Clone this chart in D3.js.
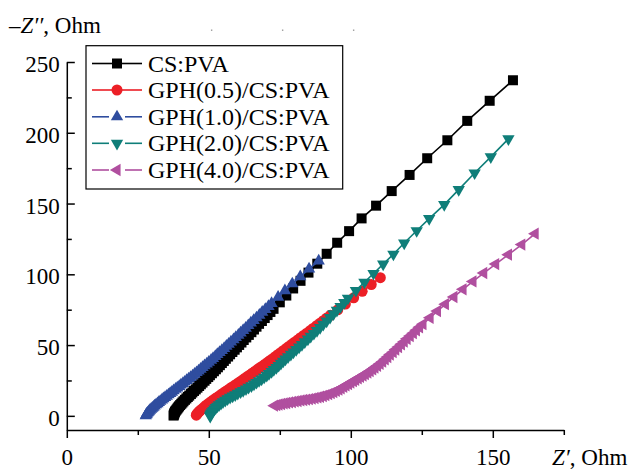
<!DOCTYPE html>
<html>
<head>
<meta charset="utf-8">
<script src="https://cdn.jsdelivr.net/npm/d3@7"></script>
<style>
  html, body { margin: 0; padding: 0; background: #fff; }
  svg { display: block; font-family: "Liberation Serif", "Times New Roman", serif; }
</style>
</head>
<body>
<svg id="chart" width="636" height="470"></svg>
<script>
// Nyquist plots (Z' vs -Z''), values in Ohm
const seriesNames = ["CS:PVA", "GPH(0.5)/CS:PVA", "GPH(1.0)/CS:PVA", "GPH(2.0)/CS:PVA", "GPH(4.0)/CS:PVA"];
const seriesColors = ["#000000", "#ec1f26", "#2f4d9f", "#0f7e79", "#b04f9f"];

const csPva = [
  [157.1,237.1],[148.9,222.6],[141.0,208.4],[134.0,194.7],[126.9,182.0],[120.7,170.2],[114.4,158.8],
  [108.9,148.5],[103.8,139.5],[99.4,130.5],[95.2,122.3],[91.5,114.5],[88.2,107.5],[85.1,101.2],
  [82.3,95.4],[79.7,90.0],[77.3,85.0],[75.0,80.2],[72.8,75.6],[71.7,73.4],[70.7,71.2],[69.7,69.1],
  [68.7,67.0],[67.7,65.0],[66.8,63.0],[65.9,61.0],[65.0,59.1],[64.1,57.2],[63.2,55.4],[62.3,53.6],
  [61.5,51.8],[60.7,50.1],[59.9,48.4],[59.1,46.7],[58.3,45.1],[57.5,43.5],[56.8,41.9],[56.0,40.3],
  [55.3,38.8],[54.6,37.3],[53.9,35.8],[53.2,34.3],[52.5,32.9],[51.8,31.5],[51.1,30.1],[50.4,28.7],
  [49.8,27.4],[49.1,26.1],[48.5,24.8],[47.8,23.5],[47.2,22.3],[46.6,21.1],[46.0,19.9],[45.4,18.7],
  [44.8,17.6],[44.2,16.5],[43.7,15.4],[43.1,14.3],[42.6,13.3],[42.1,12.3],[41.6,11.3],[41.1,10.3],
  [40.7,9.4],[40.3,8.5],[39.9,7.6],[39.5,6.7],[39.2,5.9],[38.9,5.1],[38.6,4.3],[38.3,3.5],
  [38.1,2.8],[37.9,2.1],[37.8,1.4],[37.7,0.8],[37.6,0.2]
];
const gph05 = [
  [110.4,97.6],[107.2,92.8],[104.0,88.0],[101.0,83.4],[98.1,79.0],[95.4,74.9],[92.8,71.0],[91.5,69.1],
  [90.3,67.2],[89.1,65.4],[87.9,63.6],[86.7,61.8],[85.6,60.1],[84.5,58.4],[83.4,56.8],[82.3,55.2],
  [81.3,53.6],[80.2,52.0],[79.2,50.5],[78.2,49.0],[77.2,47.5],[76.2,46.0],[75.3,44.6],[74.3,43.2],
  [73.4,41.8],[72.5,40.4],[71.6,39.1],[70.7,37.8],[69.8,36.5],[68.9,35.2],[68.0,34.0],[67.1,32.7],
  [66.3,31.5],[65.4,30.3],[64.6,29.1],[63.7,27.9],[62.9,26.8],[62.1,25.6],[61.3,24.5],[60.5,23.4],
  [59.7,22.3],[58.9,21.2],[58.1,20.2],[57.3,19.1],[56.6,18.1],[55.8,17.1],[55.1,16.1],[54.4,15.1],
  [53.7,14.1],[53.0,13.1],[52.3,12.2],[51.6,11.2],[51.0,10.3],[50.4,9.4],[49.8,8.5],[49.2,7.6],
  [48.7,6.7],[48.2,5.8],[47.7,5.0],[47.2,4.2],[46.8,3.4],[46.4,2.6],[46.1,1.9],[45.8,1.2],[45.6,0.5]
];
const gph10 = [
  [88.7,109.5],[85.3,103.8],[82.2,98.4],[79.4,93.3],[76.8,88.4],[74.4,83.8],[72.1,79.4],[71.0,77.3],
  [69.9,75.2],[68.8,73.2],[67.8,71.2],[66.8,69.3],[65.8,67.4],[64.8,65.6],[63.9,63.8],[63.0,62.0],
  [62.1,60.3],[61.2,58.6],[60.4,57.0],[59.5,55.4],[58.7,53.8],[57.8,52.2],[57.0,50.7],[56.2,49.2],
  [55.4,47.7],[54.6,46.2],[53.8,44.8],[53.0,43.4],[52.3,42.0],[51.5,40.6],[50.8,39.3],[50.0,38.0],
  [49.3,36.7],[48.5,35.4],[47.8,34.2],[47.1,33.0],[46.4,31.8],[45.7,30.6],[45.0,29.5],[44.3,28.3],
  [43.6,27.2],[42.9,26.1],[42.2,25.0],[41.5,23.9],[40.9,22.9],[40.2,21.8],[39.6,20.8],[38.9,19.8],
  [38.3,18.8],[37.6,17.8],[37.0,16.8],[36.4,15.8],[35.8,14.9],[35.2,13.9],[34.6,13.0],[34.0,12.1],
  [33.5,11.2],[32.9,10.3],[32.4,9.5],[31.9,8.6],[31.4,7.8],[30.9,7.0],[30.5,6.2],[30.1,5.4],
  [29.7,4.7],[29.3,4.0],[29.0,3.3],[28.7,2.6],[28.4,2.0],[28.2,1.4],[28.0,0.9],[27.8,0.1]
];
const gph20 = [
  [155.5,195.7],[149.3,183.0],[143.6,171.6],[138.0,159.8],[132.9,149.2],[127.6,139.3],[123.2,130.8],
  [118.8,122.1],[115.0,114.2],[111.4,107.2],[108.0,100.6],[104.8,94.4],[101.8,88.6],[99.0,83.1],
  [97.7,80.0],[96.4,77.2],[95.1,74.5],[93.9,72.0],[92.7,69.5],[91.5,67.0],[90.3,64.7],[89.2,62.4],
  [88.1,60.3],[87.0,58.2],[85.9,56.2],[84.9,54.2],[83.8,52.3],[82.8,50.4],[81.8,48.6],[80.8,46.8],
  [79.8,45.1],[78.9,43.4],[77.9,41.7],[77.0,40.1],[76.2,38.6],[75.4,37.1],[74.6,35.6],[73.8,34.1],
  [72.9,32.7],[72.1,31.3],[71.2,29.9],[70.4,28.6],[69.5,27.3],[68.6,26.0],[67.7,24.8],[66.8,23.6],
  [65.9,22.4],[65.0,21.2],[64.0,20.1],[63.1,19.0],[62.1,17.9],[61.2,16.9],[60.2,15.9],[59.3,14.9],
  [58.4,14.0],[57.5,13.1],[56.6,12.0],[55.8,11.0],[55.0,9.9],[54.3,8.9],[53.6,7.8],[53.0,6.8],
  [52.5,5.8],[52.0,4.8],[51.6,3.8],[51.2,2.9],[50.9,2.0],[50.7,1.2],[50.5,0.4],[50.5,-0.3]
];
const gph40 = [
  [164.9,128.7],[160.2,121.0],[155.5,113.9],[151.0,107.2],[146.8,100.9],[143.0,95.0],[139.5,89.4],
  [136.3,84.0],[133.3,78.9],[130.5,74.0],[127.9,69.3],[125.4,64.8],[124.2,62.6],[123.1,60.5],
  [122.0,58.4],[120.9,56.4],[119.8,54.4],[118.8,52.4],[117.8,50.5],[116.8,48.6],[115.8,46.8],
  [114.9,45.0],[113.9,43.3],[113.0,41.6],[112.1,39.9],[111.2,38.3],[110.3,36.8],[109.4,35.4],
  [108.5,34.1],[107.7,32.9],[106.8,31.7],[106.0,30.6],[105.1,29.5],[104.3,28.5],[103.4,27.5],
  [102.6,26.5],[101.7,25.5],[100.9,24.5],[100.0,23.5],[99.2,22.5],[98.3,21.5],[97.5,20.5],
  [96.6,19.5],[95.8,18.5],[94.9,17.6],[94.0,16.8],[93.1,16.0],[92.2,15.3],[91.2,14.6],[90.3,14.0],
  [89.3,13.5],[88.4,13.0],[87.4,12.6],[86.4,12.2],[85.4,11.8],[84.4,11.5],[83.4,11.2],[82.4,10.9],
  [81.4,10.5],[80.4,10.2],[79.4,9.8],[78.4,9.5],[77.4,9.1],[76.5,8.8],[75.6,8.4],[74.7,8.0],
  [73.9,7.6],[73.1,7.2]
];
const seriesData = [csPva, gph05, gph10, gph20, gph40];

const xMajorTicks = [0, 50, 100, 150];
const xMinorTicks = [25, 75, 125, 175];
const yMajorTicks = [0, 50, 100, 150, 200, 250];
const yMinorTicks = [25, 75, 125, 175, 225];
const topSpecks = [51, 76, 101];

const svg = d3.select("#chart");
svg.append("rect").attr("width", 636).attr("height", 470).attr("fill", "#fff");

const x = d3.scaleLinear().domain([0, 175]).range([66.8, 563.8]);
const y = d3.scaleLinear().domain([-10, 250]).range([430, 62]);

// marker shapes: square, circle, up / down / left triangles
const symbols = [
  { type: d3.symbolSquare, size: 100, rot: 0 },
  { type: d3.symbolCircle, size: 95, rot: 0 },
  { type: d3.symbolTriangle, size: 66, rot: 0 },
  { type: d3.symbolTriangle, size: 66, rot: 180 },
  { type: d3.symbolTriangle, size: 66, rot: -90 }
];

// axes
const axisStroke = 1.5;
const fontSize = 23;

const gx = svg.append("g").attr("transform", `translate(0,${y(-10)})`);
gx.call(d3.axisBottom(x).tickValues(xMajorTicks).tickSize(8).tickSizeOuter(0).tickPadding(11).tickFormat(d3.format("d")));
const gxm = svg.append("g").attr("transform", `translate(0,${y(-10)})`);
gxm.call(d3.axisBottom(x).tickValues(xMinorTicks).tickSize(5).tickSizeOuter(0).tickFormat(""));
gxm.select(".domain").remove();

const gy = svg.append("g").attr("transform", `translate(${x(0)},0)`);
gy.call(d3.axisLeft(y).tickValues(yMajorTicks).tickSize(-8).tickSizeOuter(0).tickPadding(7).tickFormat(d3.format("d")));
const gym = svg.append("g").attr("transform", `translate(${x(0)},0)`);
gym.call(d3.axisLeft(y).tickValues(yMinorTicks).tickSize(-5).tickSizeOuter(0).tickFormat(""));
gym.select(".domain").remove();

svg.selectAll(".domain, .tick line").attr("stroke", "#000").attr("stroke-width", axisStroke);
svg.selectAll(".tick text").attr("font-size", fontSize).attr("fill", "#000")
  .attr("font-family", "Liberation Serif, Times New Roman, serif");
gy.selectAll(".tick text").attr("dy", "0.42em");

// faint specks above the plot
svg.append("g").selectAll("rect").data(topSpecks).join("rect")
  .attr("x", d => x(d) - 0.7).attr("y", 29.5).attr("width", 1.4).attr("height", 1.4)
  .attr("fill", "#9a9a9a");

// axis titles
const yTitle = svg.append("text").attr("x", 9).attr("y", 33).attr("font-size", fontSize).attr("fill", "#000");
yTitle.append("tspan").text("\u2013");
yTitle.append("tspan").attr("font-style", "italic").text("Z\u2032\u2032");
yTitle.append("tspan").text(", Ohm");

const xTitle = svg.append("text").attr("x", 552).attr("y", 465).attr("font-size", fontSize).attr("fill", "#000");
xTitle.append("tspan").attr("font-style", "italic").text("Z\u2032");
xTitle.append("tspan").text(", Ohm");

// series: connecting line + markers
const line = d3.line().x(d => x(d[0])).y(d => y(d[1]));
seriesData.forEach((data, i) => {
  const g = svg.append("g");
  g.append("path").datum(data).attr("d", line)
    .attr("fill", "none").attr("stroke", seriesColors[i]).attr("stroke-width", 1.6);
  const sym = d3.symbol().type(symbols[i].type).size(symbols[i].size);
  g.selectAll("path.m").data(data).join("path").attr("class", "m")
    .attr("d", sym)
    .attr("transform", d => `translate(${x(d[0])},${y(d[1])}) rotate(${symbols[i].rot})`)
    .attr("fill", seriesColors[i]);
});

// legend
const legend = svg.append("g");
legend.append("rect").attr("x", 86).attr("y", 45.7).attr("width", 256.7).attr("height", 143.3)
  .attr("fill", "#fff").attr("stroke", "#000").attr("stroke-width", 1.2);
const rowY = [63.5, 90, 116.8, 143.3, 170];
seriesNames.forEach((name, i) => {
  const cy = rowY[i];
  const gap = i >= 2 ? 8 : 0;
  legend.append("line").attr("x1", 92).attr("x2", 117 - gap).attr("y1", cy).attr("y2", cy)
    .attr("stroke", seriesColors[i]).attr("stroke-width", 1.6);
  legend.append("line").attr("x1", 117 + gap).attr("x2", 142).attr("y1", cy).attr("y2", cy)
    .attr("stroke", seriesColors[i]).attr("stroke-width", 1.6);
  legend.append("path")
    .attr("d", d3.symbol().type(symbols[i].type).size(symbols[i].size)())
    .attr("transform", `translate(117,${cy}) rotate(${symbols[i].rot})`)
    .attr("fill", seriesColors[i]);
  legend.append("text").attr("x", 148).attr("y", cy + 8).attr("font-size", 24).attr("fill", "#000").text(name);
});
</script>
</body>
</html>
